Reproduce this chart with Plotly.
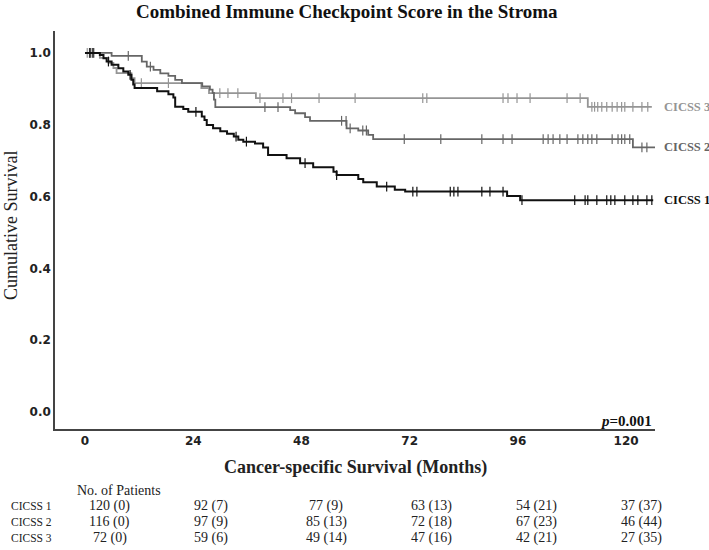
import numpy as np
import plotly.graph_objects as go

# ---------------- data ----------------
groups = ["CICSS 1", "CICSS 2", "CICSS 3"]

c1_times = [3.3, 4.1, 4.8, 5.9, 7.4, 8.5, 9.6, 10.3, 10.7, 11.0, 16.0, 18.5, 19.6, 20.0,
            21.8, 22.9, 25.9, 26.5, 27.0, 28.4, 30.0, 31.5, 33.0, 34.0, 35.1, 37.7, 39.5,
            40.6, 44.7, 47.7, 50.6, 55.1, 55.8, 60.6, 61.7, 64.7, 68.7, 71.0, 93.6, 96.5]
c1_surv = [0.994, 0.985, 0.976, 0.967, 0.957, 0.948, 0.939, 0.925, 0.912, 0.902, 0.893,
           0.885, 0.876, 0.850, 0.844, 0.836, 0.823, 0.813, 0.799, 0.790, 0.782, 0.775,
           0.767, 0.758, 0.753, 0.748, 0.737, 0.716, 0.707, 0.693, 0.682, 0.669, 0.660,
           0.649, 0.640, 0.628, 0.619, 0.614, 0.602, 0.590]
c1_cens = [1.1, 1.8, 5.2, 10.0, 24.6, 33.5, 35.8, 48.8, 55.8, 66.9, 72.7, 73.6, 81.0,
           81.8, 82.7, 88.0, 89.8, 92.7, 96.9, 108.6, 110.9, 111.5, 113.5, 115.7, 116.6,
           117.5, 119.7, 121.5, 122.6, 124.6, 125.7]
c1_end = 126.0

c2_times = [5.9, 12.6, 13.7, 15.2, 16.7, 18.5, 20.0, 21.5, 26.0, 27.7, 28.3, 28.6, 28.9,
            45.5, 46.6, 48.8, 49.9, 58.0, 60.6, 62.8, 63.9, 121.5]
c2_surv = [0.992, 0.976, 0.962, 0.953, 0.943, 0.936, 0.925, 0.916, 0.907, 0.898, 0.889,
           0.870, 0.849, 0.841, 0.832, 0.821, 0.811, 0.790, 0.784, 0.772, 0.760, 0.737]
c2_cens = [1.0, 1.6, 9.6, 14.5, 39.9, 42.8, 56.9, 57.9, 58.8, 61.6, 62.4, 70.8, 78.9, 88.0,
           92.7, 94.7, 101.6, 102.7, 103.8, 105.3, 106.9, 109.3, 110.4, 111.5, 112.4,
           113.5, 116.9, 118.2, 119.0, 119.7, 120.8, 123.5, 124.6]
c2_end = 126.8

c3_times = [3.3, 5.2, 6.3, 7.0, 10.3, 11.0, 25.8, 27.5, 37.9, 111.5]
c3_surv = [0.986, 0.972, 0.958, 0.944, 0.930, 0.916, 0.902, 0.888, 0.874, 0.850]
c3_cens = [0.5, 1.2, 2.0, 12.5, 18.5, 29.9, 31.7, 33.9, 38.8, 43.9, 45.8, 51.9, 59.9,
           74.9, 75.8, 92.7, 93.8, 95.8, 98.7, 106.9, 109.8, 112.4, 113.0, 113.7, 114.6,
           115.7, 116.9, 118.0, 119.0, 119.7, 121.5, 123.5, 124.8]
c3_end = 125.7

x_ticks = [0, 24, 48, 72, 96, 120]
x_tick_labels = ["0", "24", "48", "72", "96", "120"]
y_ticks = [0.0, 0.2, 0.4, 0.6, 0.8, 1.0]
y_tick_labels = ["0.0", "0.2", "0.4", "0.6", "0.8", "1.0"]

risk_c1 = ["120 (0)", "92 (7)", "77 (9)", "63 (13)", "54 (21)", "37 (37)"]
risk_c2 = ["116 (0)", "97 (9)", "85 (13)", "72 (18)", "67 (23)", "46 (44)"]
risk_c3 = ["72 (0)", "59 (6)", "49 (14)", "47 (16)", "42 (21)", "27 (35)"]

title_text = "Combined Immune Checkpoint Score in the Stroma"
x_title = "Cancer-specific Survival (Months)"
y_title = "Cumulative Survival"
p_text = "<i>p</i>=0.001"
table_head = "No. of Patients"

# ---------------- styling / layout ----------------
W, H = 709, 550
L, R, T, B = 55, 54, 31, 121
PW, PH = W - L - R, H - T - B


def px_x(px):
    return (px - L) / PW


def px_y(py):
    return (H - B - py) / PH


colors = ["#111111", "#666666", "#959595"]
widths = [2.0, 1.8, 1.8]
SERIF = "Liberation Serif"
SANS = "DejaVu Sans"

fig = go.Figure()

series = [
    (c1_times, c1_surv, c1_cens, c1_end),
    (c2_times, c2_surv, c2_cens, c2_end),
    (c3_times, c3_surv, c3_cens, c3_end),
]

for gi in [2, 1, 0]:
    t, s, cens, end = series[gi]
    xs = [0.0] + list(t) + [end]
    ys = [1.0] + list(s) + [s[-1]]
    fig.add_trace(go.Scatter(x=xs, y=ys, mode="lines", line_shape="hv",
                             line=dict(color=colors[gi], width=widths[gi]),
                             showlegend=False, hoverinfo="skip"))
    tt = np.array([0.0] + list(t))
    ss = np.array([1.0] + list(s))
    idx = np.searchsorted(tt, np.array(cens), side="right") - 1
    fig.add_trace(go.Scatter(x=cens, y=ss[idx], mode="markers",
                             marker=dict(symbol="line-ns", size=7,
                                         line=dict(color=colors[gi], width=1.2)),
                             showlegend=False, hoverinfo="skip"))

# group labels at right end of curves
for gi, g in enumerate(groups):
    s = series[gi][1]
    fig.add_annotation(x=px_x(662), y=s[-1], xref="paper", yref="y", text="<b>%s</b>" % g,
                       showarrow=False, xanchor="left", yanchor="middle",
                       font=dict(family=SERIF, size=12.5, color=colors[gi]))

# title
fig.add_annotation(x=px_x(347), y=px_y(11), xref="paper", yref="paper",
                   text="<b>%s</b>" % title_text, showarrow=False,
                   xanchor="center", yanchor="middle",
                   font=dict(family=SERIF, size=19, color="#111111"))
# y title
fig.add_annotation(x=px_x(11), y=px_y(226), xref="paper", yref="paper", text=y_title,
                   textangle=-90, showarrow=False, xanchor="center", yanchor="middle",
                   font=dict(family=SERIF, size=18, color="#222222"))
# x title
fig.add_annotation(x=px_x(355), y=px_y(467), xref="paper", yref="paper",
                   text="<b>%s</b>" % x_title, showarrow=False,
                   xanchor="center", yanchor="middle",
                   font=dict(family=SERIF, size=18, color="#222222"))
# p value
fig.add_annotation(x=px_x(654), y=px_y(421), xref="paper", yref="paper",
                   text="<b>%s</b>" % p_text, showarrow=False,
                   xanchor="right", yanchor="middle",
                   font=dict(family=SERIF, size=15, color="#111111"))

# number-at-risk table
row_y_px = [491, 506, 522, 538]
col_shift = [25, 18, 25, 22, 19, 15]
fig.add_annotation(x=px_x(75), y=px_y(row_y_px[0]), xref="paper", yref="paper",
                   text=table_head, showarrow=False, xanchor="left", yanchor="middle",
                   font=dict(family=SERIF, size=14, color="#222222"))
for ri, (g, row) in enumerate(zip(groups, [risk_c1, risk_c2, risk_c3])):
    yp = px_y(row_y_px[ri + 1])
    fig.add_annotation(x=px_x(9), y=yp, xref="paper", yref="paper", text=g,
                       showarrow=False, xanchor="left", yanchor="middle",
                       font=dict(family=SERIF, size=11.5, color="#222222"))
    for ci, (tk, val) in enumerate(zip(x_ticks, row)):
        fig.add_annotation(x=tk, y=yp, xref="x", yref="paper", text=val,
                           xshift=col_shift[ci], showarrow=False,
                           xanchor="center", yanchor="middle",
                           font=dict(family=SERIF, size=14, color="#222222"))

fig.update_layout(
    width=W, height=H, autosize=False,
    margin=dict(l=L, r=R, t=T, b=B, pad=0),
    plot_bgcolor="white", paper_bgcolor="white",
    xaxis=dict(range=[-6.65, 126.4], tickvals=x_ticks, ticktext=x_tick_labels,
               showline=True, linecolor="#444444", linewidth=1.5, ticks="",
               showgrid=False, zeroline=False, mirror=False,
               tickfont=dict(family=SANS, size=12, color="#222222", weight="bold")),
    yaxis=dict(range=[-0.047, 1.061], tickvals=y_ticks, ticktext=y_tick_labels,
               showline=True, linecolor="#444444", linewidth=1.5, ticks="",
               showgrid=False, zeroline=False,
               tickfont=dict(family=SANS, size=12, color="#222222", weight="bold")),
)

fig.write_html("out.html", config={"displayModeBar": False},
               post_script="document.body.style.margin='0';document.body.style.overflow='hidden';")
